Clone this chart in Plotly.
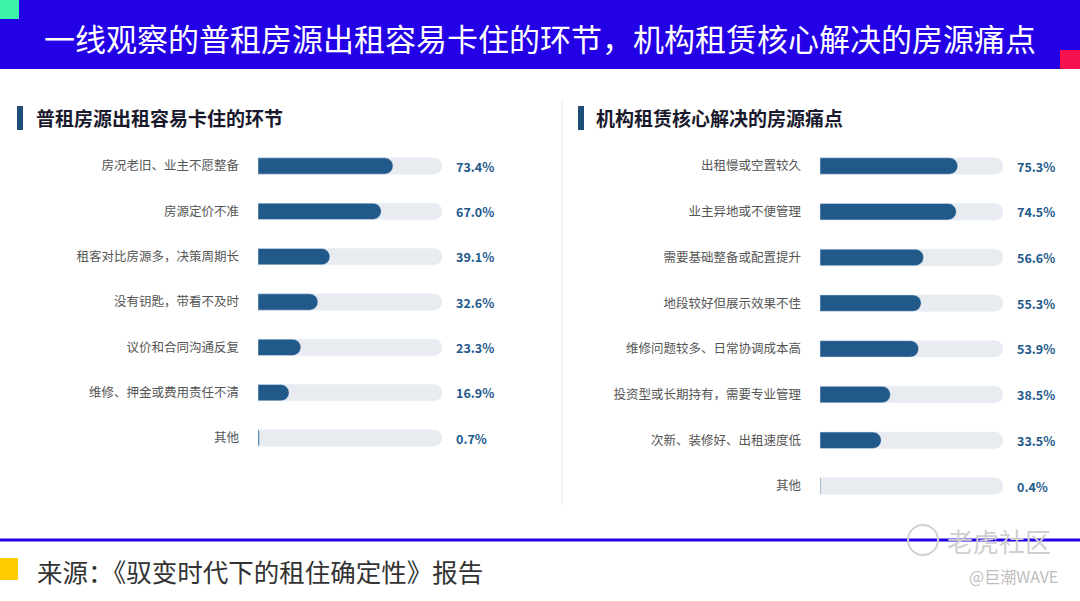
import plotly.graph_objects as go

W, H = 1080, 601

main_title = "一线观察的普租房源出租容易卡住的环节，机构租赁核心解决的房源痛点"
source_text = "来源：《驭变时代下的租住确定性》报告"

left_title = "普租房源出租容易卡住的环节"
left_labels = ["房况老旧、业主不愿整备", "房源定价不准", "租客对比房源多，决策周期长",
               "没有钥匙，带看不及时", "议价和合同沟通反复", "维修、押金或费用责任不清", "其他"]
left_values = [73.4, 67.0, 39.1, 32.6, 23.3, 16.9, 0.7]

right_title = "机构租赁核心解决的房源痛点"
right_labels = ["出租慢或空置较久", "业主异地或不便管理", "需要基础整备或配置提升",
                "地段较好但展示效果不佳", "维修问题较多、日常协调成本高",
                "投资型或长期持有，需要专业管理", "次新、装修好、出租速度低", "其他"]
right_values = [75.3, 74.5, 56.6, 55.3, 53.9, 38.5, 33.5, 0.4]

TRACK_MAX = 100

BAND = "#2300E6"
BAR = "#22598B"
TRACK = "#E8ECF1"
FONT = "Noto Sans CJK SC"


def px(x):
    return x / W


def py(y):
    return 1 - y / H


def y_domain(first, last, n):
    # row centres in pixels -> axis domain in paper units
    step = (last - first) / (n - 1)
    return [py(last + step / 2), py(first - step / 2)]


fig = go.Figure()

# value bars sit on overlaying x axes (drawn on top); corner rounding only
# works when each subplot holds a single bar trace, so no barmode overlay
panels = [
    ("x", "x3", "y", left_labels, left_values),
    ("x2", "x4", "y2", right_labels, right_values),
]
for xa, xv, ya, labels, values in panels:
    fig.add_trace(go.Bar(y=labels, x=[TRACK_MAX] * len(labels), orientation="h",
                         marker=dict(color=TRACK, cornerradius="50%"), width=0.36,
                         hoverinfo="skip", xaxis=xa, yaxis=ya, showlegend=False))
    fig.add_trace(go.Bar(y=labels, x=values, orientation="h",
                         marker=dict(color=BAR, cornerradius="50%"), width=0.36,
                         hovertemplate="%{y}: %{x:.1f}%<extra></extra>",
                         xaxis=xv, yaxis=ya, showlegend=False))

axis_x = dict(range=[0, TRACK_MAX], visible=False, fixedrange=True)
axis_y = dict(type="category", showgrid=False, zeroline=False, showline=False, ticks="",
              ticklabelstandoff=18, tickfont=dict(family=FONT, size=12.5, color="#555555"),
              fixedrange=True)
left_dom = [px(258), px(442)]
right_dom = [px(820), px(1003)]

fig.update_layout(
    width=W, height=H,
    margin=dict(l=0, r=0, t=0, b=0),
    paper_bgcolor="white", plot_bgcolor="white",
    barcornerradius="50%",
    font=dict(family=FONT),
    xaxis=dict(axis_x, domain=left_dom, anchor="y"),
    xaxis3=dict(axis_x, domain=left_dom, anchor="y", overlaying="x"),
    yaxis=dict(axis_y, domain=y_domain(166, 438, len(left_labels)), anchor="x",
               categoryarray=left_labels, range=[len(left_labels) - 0.5, -0.5]),
    xaxis2=dict(axis_x, domain=right_dom, anchor="y2"),
    xaxis4=dict(axis_x, domain=right_dom, anchor="y2", overlaying="x2"),
    yaxis2=dict(axis_y, domain=y_domain(166, 486, len(right_labels)), anchor="x2",
                categoryarray=right_labels, range=[len(right_labels) - 0.5, -0.5]),
)

# value labels
for xa, xv, ya, labels, values in panels:
    for lab, v in zip(labels, values):
        fig.add_annotation(xref=f"{xa} domain", yref=ya, x=1.065, y=lab, text=f"{v:.1f}%",
                           showarrow=False, xanchor="left",
                           font=dict(family=FONT, size=12.5, color=BAR, weight="bold"))

shapes = [
    # header band and corner accents
    dict(type="rect", x0=0, x1=1, y0=py(69), y1=1, fillcolor=BAND),
    dict(type="rect", x0=0, x1=px(19), y0=py(19), y1=1, fillcolor="#3CF2A6"),
    dict(type="rect", x0=px(1060), x1=1, y0=py(69), y1=py(50), fillcolor="#F5124F"),
    # subtitle markers
    dict(type="rect", x0=px(17), x1=px(23), y0=py(130), y1=py(106), fillcolor="#1F4E79"),
    dict(type="rect", x0=px(578), x1=px(584), y0=py(130), y1=py(106), fillcolor="#1F4E79"),
    # divider
    dict(type="line", x0=px(562), x1=px(562), y0=py(505), y1=py(100),
         line=dict(color="#E6E6E6", width=1)),
    # footer
    dict(type="line", x0=0, x1=1, y0=py(540), y1=py(540), line=dict(color=BAND, width=3)),
    dict(type="rect", x0=0, x1=px(18), y0=py(580), y1=py(558), fillcolor="#FFCC00"),
    # watermark logo
    dict(type="circle", x0=px(908), x1=px(938), y0=py(555), y1=py(525),
         line=dict(color="#D0D0D0", width=2)),
]
for s in shapes:
    if s["type"] == "rect":
        s["line"] = dict(width=0)
    fig.add_shape(xref="paper", yref="paper", layer="below", **s)

texts = [
    dict(x=px(540), y=py(38), text=main_title, xanchor="center",
         font=dict(size=31, color="white")),
    dict(x=px(34), y=py(117), text=left_title, xanchor="left",
         font=dict(size=19, color="#1A1A2E", weight="bold")),
    dict(x=px(594), y=py(117), text=right_title, xanchor="left",
         font=dict(size=19, color="#1A1A2E", weight="bold")),
    dict(x=px(35), y=py(570), text=source_text, xanchor="left",
         font=dict(size=25.5, color="#333333")),
    dict(x=px(945), y=py(540), text="老虎社区", xanchor="left",
         font=dict(size=26, color="#CFCFCF")),
    dict(x=px(1060), y=py(576), text="@巨潮WAVE", xanchor="right",
         font=dict(size=16, color="#BDBDBD")),
]
for t in texts:
    t["font"]["family"] = FONT
    fig.add_annotation(xref="paper", yref="paper", showarrow=False, yanchor="middle", **t)

fig.write_html("out.html", config={"displayModeBar": False},
               post_script="document.body.style.margin='0';")
